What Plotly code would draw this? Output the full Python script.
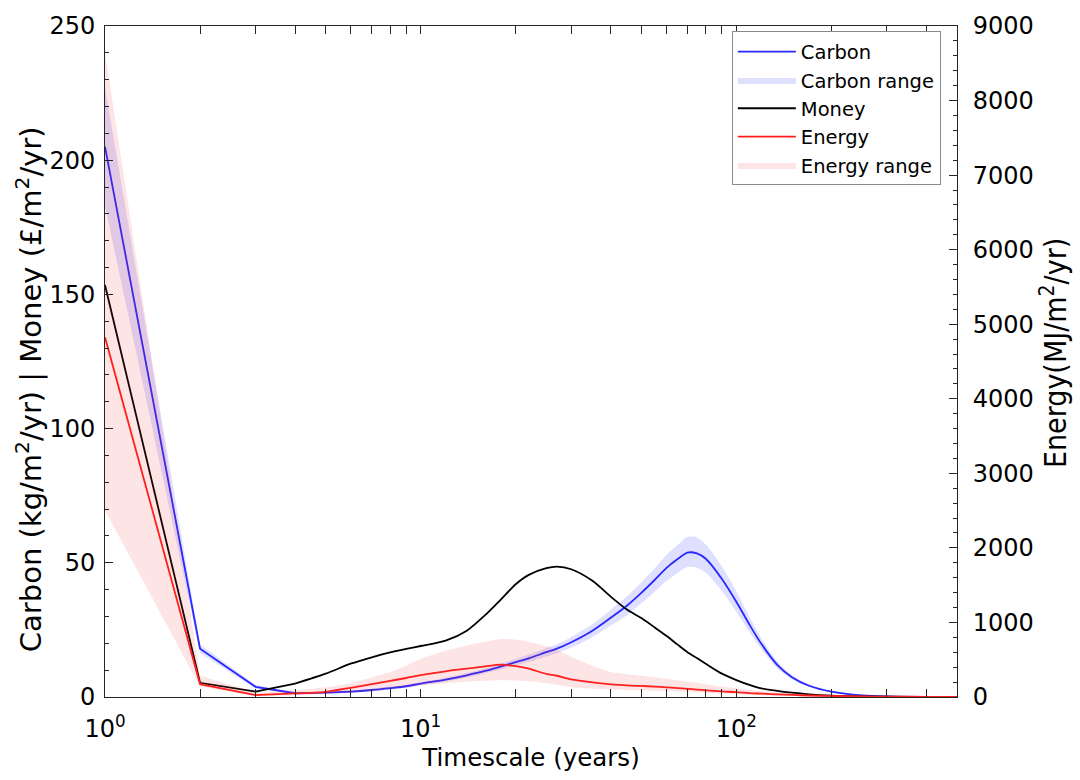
import plotly.graph_objects as go

# ---------------- data ----------------
years = [1, 2, 3, 4, 5, 6, 7, 8, 9, 10, 12, 14, 16, 18, 20, 22, 25, 27, 30, 35, 40, 45, 50,
         55, 60, 65, 70, 75, 80, 90, 100, 110, 120, 135, 150, 170, 200, 250, 300, 400, 500]

carbon = [205, 18, 3.8, 1.4, 1.6, 2.0, 2.6, 3.3, 4.0, 5.0, 6.5, 8.1, 9.7, 11.4, 13.0, 14.4, 16.7,
          18.0, 20.4, 24.7, 29.5, 34.0, 38.8, 43.5, 48.0, 51.3, 53.8, 53.5, 51.5, 44.0, 35.5,
          27.0, 19.8, 11.9, 7.4, 4.2, 2.0, 0.6, 0.2, 0.05, 0.02]
carbon_hi = [227, 19.6, 4.5, 1.8, 2.0, 2.5, 3.1, 3.9, 4.6, 5.6, 7.2, 8.9, 10.6, 12.5, 14.2, 15.8,
             18.3, 19.7, 22.4, 27.1, 32.4, 37.5, 42.7, 47.9, 52.8, 56.5, 59.6, 59.4, 56.8, 48.6,
             39.3, 29.9, 21.9, 13.2, 8.2, 4.7, 2.3, 0.7, 0.25, 0.07, 0.03]
carbon_lo = [183, 16.4, 3.1, 1.0, 1.2, 1.5, 2.1, 2.7, 3.4, 4.4, 5.8, 7.3, 8.8, 10.3, 11.8, 13.0,
             15.1, 16.3, 18.4, 22.3, 26.6, 30.5, 34.9, 39.1, 43.2, 46.1, 48.4, 48.2, 46.3, 39.5,
             31.8, 24.2, 17.8, 10.6, 6.6, 3.7, 1.7, 0.5, 0.15, 0.03, 0.01]

money = [153.5, 5.3, 2.0, 5.0, 8.7, 12.4, 14.8, 16.6, 17.9, 19.0, 21.0, 24.7, 30.5, 36.5, 42.0,
         45.5, 48.0, 48.6, 47.6, 43.3, 37.4, 32.6, 29.4, 26.0, 22.8, 19.6, 16.7, 14.5, 12.4, 8.7,
         6.3, 4.5, 3.2, 2.3, 1.6, 1.0, 0.5, 0.2, 0.1, 0.03, 0.01]

energy = [4825, 172, 26, 49, 70, 123, 172, 216, 255, 292, 345, 380, 411, 433, 415, 380, 310, 285,
          235, 195, 170, 155, 148, 140, 130, 120, 110, 100, 90, 75, 65, 52, 45, 35, 28, 20, 14, 8,
          5, 3, 3]
energy_hi = [8640, 290, 60, 90, 130, 185, 260, 335, 420, 510, 620, 690, 740, 778, 770, 740, 680,
             630, 540, 420, 335, 305, 285, 265, 245, 225, 205, 190, 170, 140, 115, 93, 80, 62, 49,
             38, 28, 18, 12, 7, 5]
energy_lo = [2500, 140, 10, 25, 40, 60, 85, 110, 135, 155, 185, 205, 218, 225, 220, 210, 185, 165,
             130, 110, 100, 95, 90, 85, 80, 75, 70, 62, 55, 45, 38, 30, 25, 18, 14, 10, 7, 4, 2, 1, 1]

x_major = [1, 10, 100]
x_major_text = ["10<sup>0</sup>", "10<sup>1</sup>", "10<sup>2</sup>"]
x_minor = [2, 3, 4, 5, 6, 7, 8, 9, 20, 30, 40, 50, 60, 70, 80, 90, 200, 300, 400]

left_title = "Carbon (kg/m<sup>2</sup>/yr) | Money (£/m<sup>2</sup>/yr)"
right_title = "Energy(MJ/m<sup>2</sup>/yr)"

FONT = "DejaVu Sans"
AX = "#262626"
K = years.index(4)   # straight segments up to 4 years, smooth curve afterwards


def parts(vals):
    return [(years[:K + 1], vals[:K + 1], "linear"), (years[K:], vals[K:], "spline")]


def band(hi, lo):
    out = []
    for (xs, h, shp), (_, l, _) in zip(parts(hi), parts(lo)):
        out.append((xs + xs[::-1], h + l[::-1], shp))
    return out


fig = go.Figure()


def add_band(hi, lo, name, color, rank, yaxis):
    for i, (xs, ys, shp) in enumerate(band(hi, lo)):
        fig.add_trace(go.Scatter(
            x=xs, y=ys, fill="toself", fillcolor=color, mode="lines",
            line=dict(width=0, shape=shp, smoothing=0.8), name=name, legendgroup=name,
            showlegend=(i == 0), legendrank=rank, yaxis=yaxis, hoverinfo="skip"))


def add_line(vals, name, color, rank, yaxis):
    for i, (xs, ys, shp) in enumerate(parts(vals)):
        fig.add_trace(go.Scatter(
            x=xs, y=ys, mode="lines", line=dict(color=color, width=1.8, shape=shp, smoothing=0.8),
            name=name, legendgroup=name, showlegend=(i == 0), legendrank=rank, yaxis=yaxis))


add_band(carbon_hi, carbon_lo, "Carbon range", "rgba(40,40,255,0.15)", 2, "y")
add_line(carbon, "Carbon", "rgb(40,40,255)", 1, "y")
add_line(money, "Money", "black", 3, "y")
add_line(energy, "Energy", "rgb(255,30,30)", 4, "y2")
add_band(energy_hi, energy_lo, "Energy range", "rgba(245,40,40,0.12)", 5, "y2")

fig.update_layout(
    width=1080, height=780,
    margin=dict(l=105, r=123, t=18, b=83),
    paper_bgcolor="white", plot_bgcolor="white",
    font=dict(family=FONT, size=24, color="black"),
    showlegend=True,
    legend=dict(x=0.981, y=0.992, xanchor="right", yanchor="top",
                bgcolor="white", bordercolor="#8a8a8a", borderwidth=1,
                font=dict(size=19.5, family=FONT), itemwidth=58,
                tracegroupgap=0),
    xaxis=dict(type="log", range=[0, 2.699], showline=True, linecolor=AX, linewidth=1,
               mirror="allticks", ticks="inside", ticklen=8, tickcolor=AX,
               tickmode="array", tickvals=x_major, ticktext=x_major_text,
               ticklabelstandoff=10,
               minor=dict(ticks="inside", ticklen=5, tickcolor=AX,
                          tickmode="array", tickvals=x_minor, showgrid=False),
               showgrid=False, zeroline=False,
               title=dict(text="Timescale (years)", font=dict(size=24.5), standoff=6)),
    yaxis=dict(range=[0, 250], showline=True, linecolor=AX, linewidth=1,
               ticks="inside", ticklen=8, tickcolor=AX, dtick=50, ticklabelstandoff=4,
               minor=dict(ticks="inside", ticklen=4, tickcolor=AX, dtick=10, showgrid=False),
               showgrid=False, zeroline=False),
    yaxis2=dict(range=[0, 9000], overlaying="y", side="right", showline=True,
                linecolor=AX, linewidth=1, ticks="inside", ticklen=8, tickcolor=AX,
                dtick=1000, ticklabelstandoff=10,
                minor=dict(ticks="inside", ticklen=4, tickcolor=AX, dtick=200, showgrid=False),
                showgrid=False, zeroline=False),
    annotations=[
        dict(text=left_title, textangle=-90, xref="paper", yref="paper",
             x=-0.0898, y=0.4595, xanchor="center", yanchor="middle", showarrow=False,
             font=dict(size=29, family=FONT, color="black")),
        dict(text=right_title, textangle=-90, xref="paper", yref="paper",
             x=1.1138, y=0.5125, xanchor="center", yanchor="middle", showarrow=False,
             font=dict(size=30, family="DejaVu Sans Condensed", color="black")),
    ],
)

fig.write_html("out.html")
